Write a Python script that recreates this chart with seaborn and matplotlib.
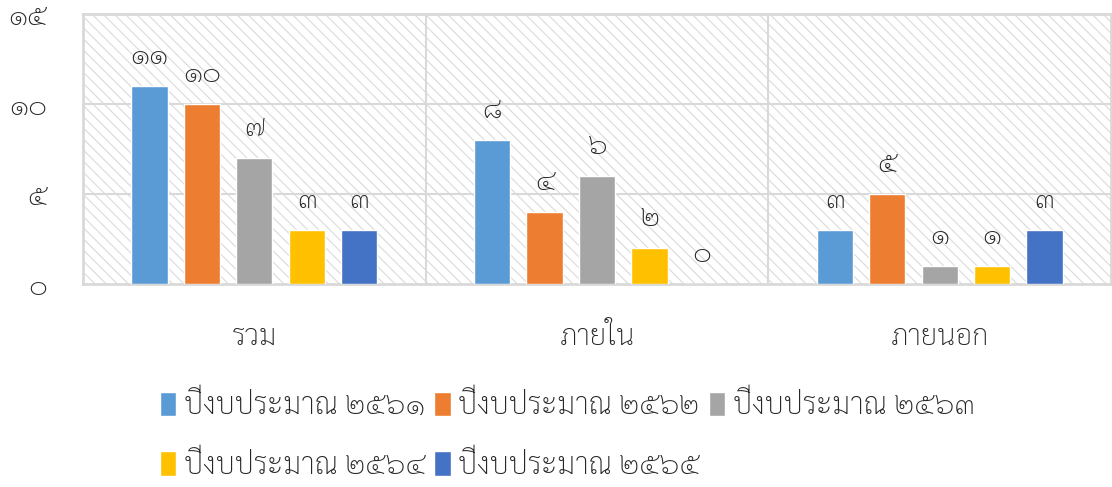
import matplotlib
matplotlib.use("Agg")
import matplotlib.pyplot as plt
import seaborn as sns
import pandas as pd

# ── Data ───────────────────────────────────────────────────────────────────────

categories = ["รวม", "ภายใน", "ภายนอก"]
years = ["ปีงบประมาณ ๒๕๖๑", "ปีงบประมาณ ๒๕๖๒", "ปีงบประมาณ ๒๕๖๓",
         "ปีงบประมาณ ๒๕๖๔", "ปีงบประมาณ ๒๕๖๕"]
values = {
    "ปีงบประมาณ ๒๕๖๑": [11, 8, 3],
    "ปีงบประมาณ ๒๕๖๒": [10, 4, 5],
    "ปีงบประมาณ ๒๕๖๓": [7, 6, 1],
    "ปีงบประมาณ ๒๕๖๔": [3, 2, 1],
    "ปีงบประมาณ ๒๕๖๕": [3, 0, 3],
}
colors = ["#5b9bd5", "#ed7d31", "#a5a5a5", "#ffc000", "#4472c4"]
yticks = [0, 5, 10, 15]

thai_digits = str.maketrans("0123456789", "๐๑๒๓๔๕๖๗๘๙")
def th(n):
    return str(n).translate(thai_digits)

rows = []
for y in years:
    for c, v in zip(categories, values[y]):
        rows.append({"category": c, "year": y, "value": v})
df = pd.DataFrame(rows)

# ── Style ──────────────────────────────────────────────────────────────────────

sns.set_theme(style="white")
plt.rcParams["font.family"] = ["Sarabun", "DejaVu Sans"]
plt.rcParams["hatch.linewidth"] = 0.8
grid_col = "#d9d9d9"
text_col = "#262626"

fig = plt.figure(figsize=(11.12, 4.87), dpi=100)
ax = fig.add_axes([83 / 1112, 1 - 284 / 487, 1028 / 1112, 270 / 487])

# hatched plot background (hatch colour follows edgecolor)
ax.add_patch(plt.Rectangle((0, 0), 1, 1, transform=ax.transAxes, facecolor="white",
                           edgecolor="#dadada", linewidth=0, hatch="\\\\\\", zorder=0))

sns.barplot(data=df, x="category", y="value", hue="year", order=categories,
            hue_order=years, palette=colors, width=0.765, gap=0.31,
            saturation=1, ax=ax, zorder=3)

# value labels in Thai digits
for cont in ax.containers:
    for bar in cont:
        h = bar.get_height()
        ax.annotate(th(int(round(h))), (bar.get_x() + bar.get_width() / 2, h),
                    xytext=(0, 30), textcoords="offset pixels",
                    ha="center", va="center", fontsize=21, fontweight="light",
                    color=text_col, zorder=5)

ax.set_xlim(-0.5, 2.5)
ax.set_ylim(0, 15)
ax.set_yticks(yticks)
ax.set_yticklabels([th(t) for t in yticks], fontsize=21, fontweight="light",
                   color=text_col)
ax.tick_params(axis="y", length=0, pad=26)
ax.tick_params(axis="x", length=0, pad=28, labelsize=21, labelcolor=text_col)
for lab in ax.get_xticklabels():
    lab.set_fontweight("light")
ax.set_xlabel("")
ax.set_ylabel("")

for t in [5, 10]:
    ax.axhline(t, color=grid_col, lw=1.5, zorder=1)
for xv in [0.5, 1.5]:
    ax.axvline(xv, color=grid_col, lw=1.5, zorder=1)
for s in ax.spines.values():
    s.set_color(grid_col)
    s.set_linewidth(2)

# legend: row-major order for 3 columns
handles, labels = ax.get_legend_handles_labels()
order = [0, 3, 1, 4, 2]
leg = ax.legend([handles[i] for i in order], [labels[i] for i in order],
                ncol=3, loc="upper left", bbox_to_anchor=(160 / 1112, 1 - 391 / 487),
                bbox_transform=fig.transFigure, frameon=False,
                prop={"size": 21.5, "weight": "light"},
                handlelength=0.55, handleheight=0.9, handletextpad=0.25,
                columnspacing=0.3, labelspacing=1.0, borderaxespad=0,
                borderpad=0)
for t in leg.get_texts():
    t.set_color(text_col)

fig.savefig("out.png", dpi=100)
